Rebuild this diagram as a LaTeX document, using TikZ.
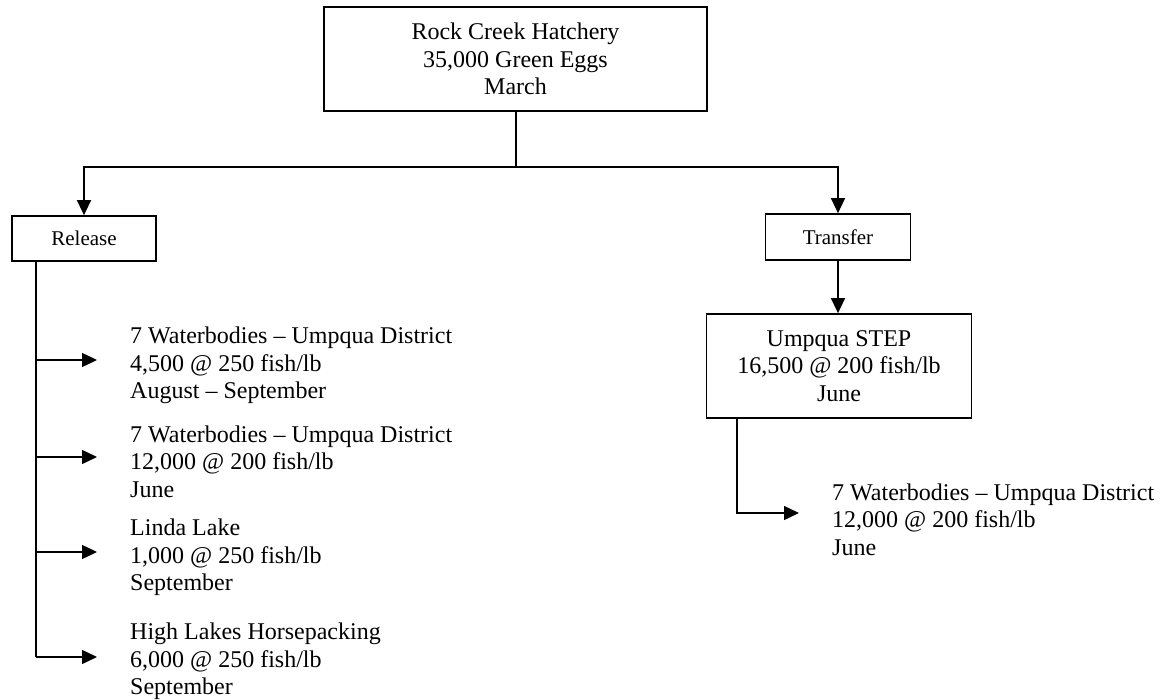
\documentclass[tikz,border=0pt]{standalone}
\usepackage{fontspec}
\setmainfont{Liberation Serif}
\usetikzlibrary{arrows.meta}
\begin{document}
\begin{tikzpicture}[x=1pt,y=-1pt,
  box/.style={draw,line width=1.7pt,inner sep=0pt,align=center,font=\fontsize{24}{27.6}\selectfont},
  smallbox/.style={draw,line width=1.7pt,inner sep=0pt,align=center,font=\fontsize{21}{24}\selectfont},
  lst/.style={anchor=west,align=left,inner ysep=0pt,inner xsep=33pt,font=\fontsize{24}{27.6}\selectfont},
  conn/.style={line width=1.4pt},
  arr/.style={line width=1.4pt,-{Triangle[length=15pt,width=14pt]}}]
\useasboundingbox (0,0) rectangle (1162,700);
% boxes
\node[box,minimum width=383pt,minimum height=104pt] (top) at (515.5,59) {Rock Creek Hatchery\\35,000 Green Eggs\\March};
\node[smallbox,minimum width=144pt,minimum height=45pt] (release) at (84,238.5) {Release};
\node[smallbox,minimum width=145pt,minimum height=46pt] (transfer) at (838,237) {Transfer};
\node[box,minimum width=265pt,minimum height=104pt] (step) at (839,366) {Umpqua STEP\\16,500 @ 200 fish/lb\\June};
% list texts
\node[lst] (t1) at (97,365.5) {7 Waterbodies – Umpqua District\\4,500 @ 250 fish/lb\\August – September};
\node[lst] (t2) at (97,461.5) {7 Waterbodies – Umpqua District\\12,000 @ 200 fish/lb\\June};
\node[lst] (t3) at (97,557.5) {Linda Lake\\1,000 @ 250 fish/lb\\September};
\node[lst] (t4) at (97,661.5) {High Lakes Horsepacking\\6,000 @ 250 fish/lb\\September};
\node[lst] (u1) at (799,519.5) {7 Waterbodies – Umpqua District\\12,000 @ 200 fish/lb\\June};
% junction coordinates
\coordinate (j) at (516,167);
\coordinate (r1) at (36,360);
\coordinate (r2) at (36,457);
\coordinate (r3) at (36,552);
\coordinate (r4) at (36,657);
\coordinate (s1) at (737,513);
% connectors
\draw[conn] (top.south -| j) -- (j);
\draw[arr] (j) -| (release.north);
\draw[arr] (j) -| (transfer.north);
\draw[arr] (transfer.south) -- (transfer.south |- step.north);
\draw[conn] (release.south -| r1) -- (r4);
\draw[arr] (r1) -- (r1 -| t1.west);
\draw[arr] (r2) -- (r2 -| t2.west);
\draw[arr] (r3) -- (r3 -| t3.west);
\draw[arr] (r4) -- (r4 -| t4.west);
\draw[arr] (step.south -| s1) -- (s1) -- (s1 -| u1.west);
\end{tikzpicture}
\end{document}
